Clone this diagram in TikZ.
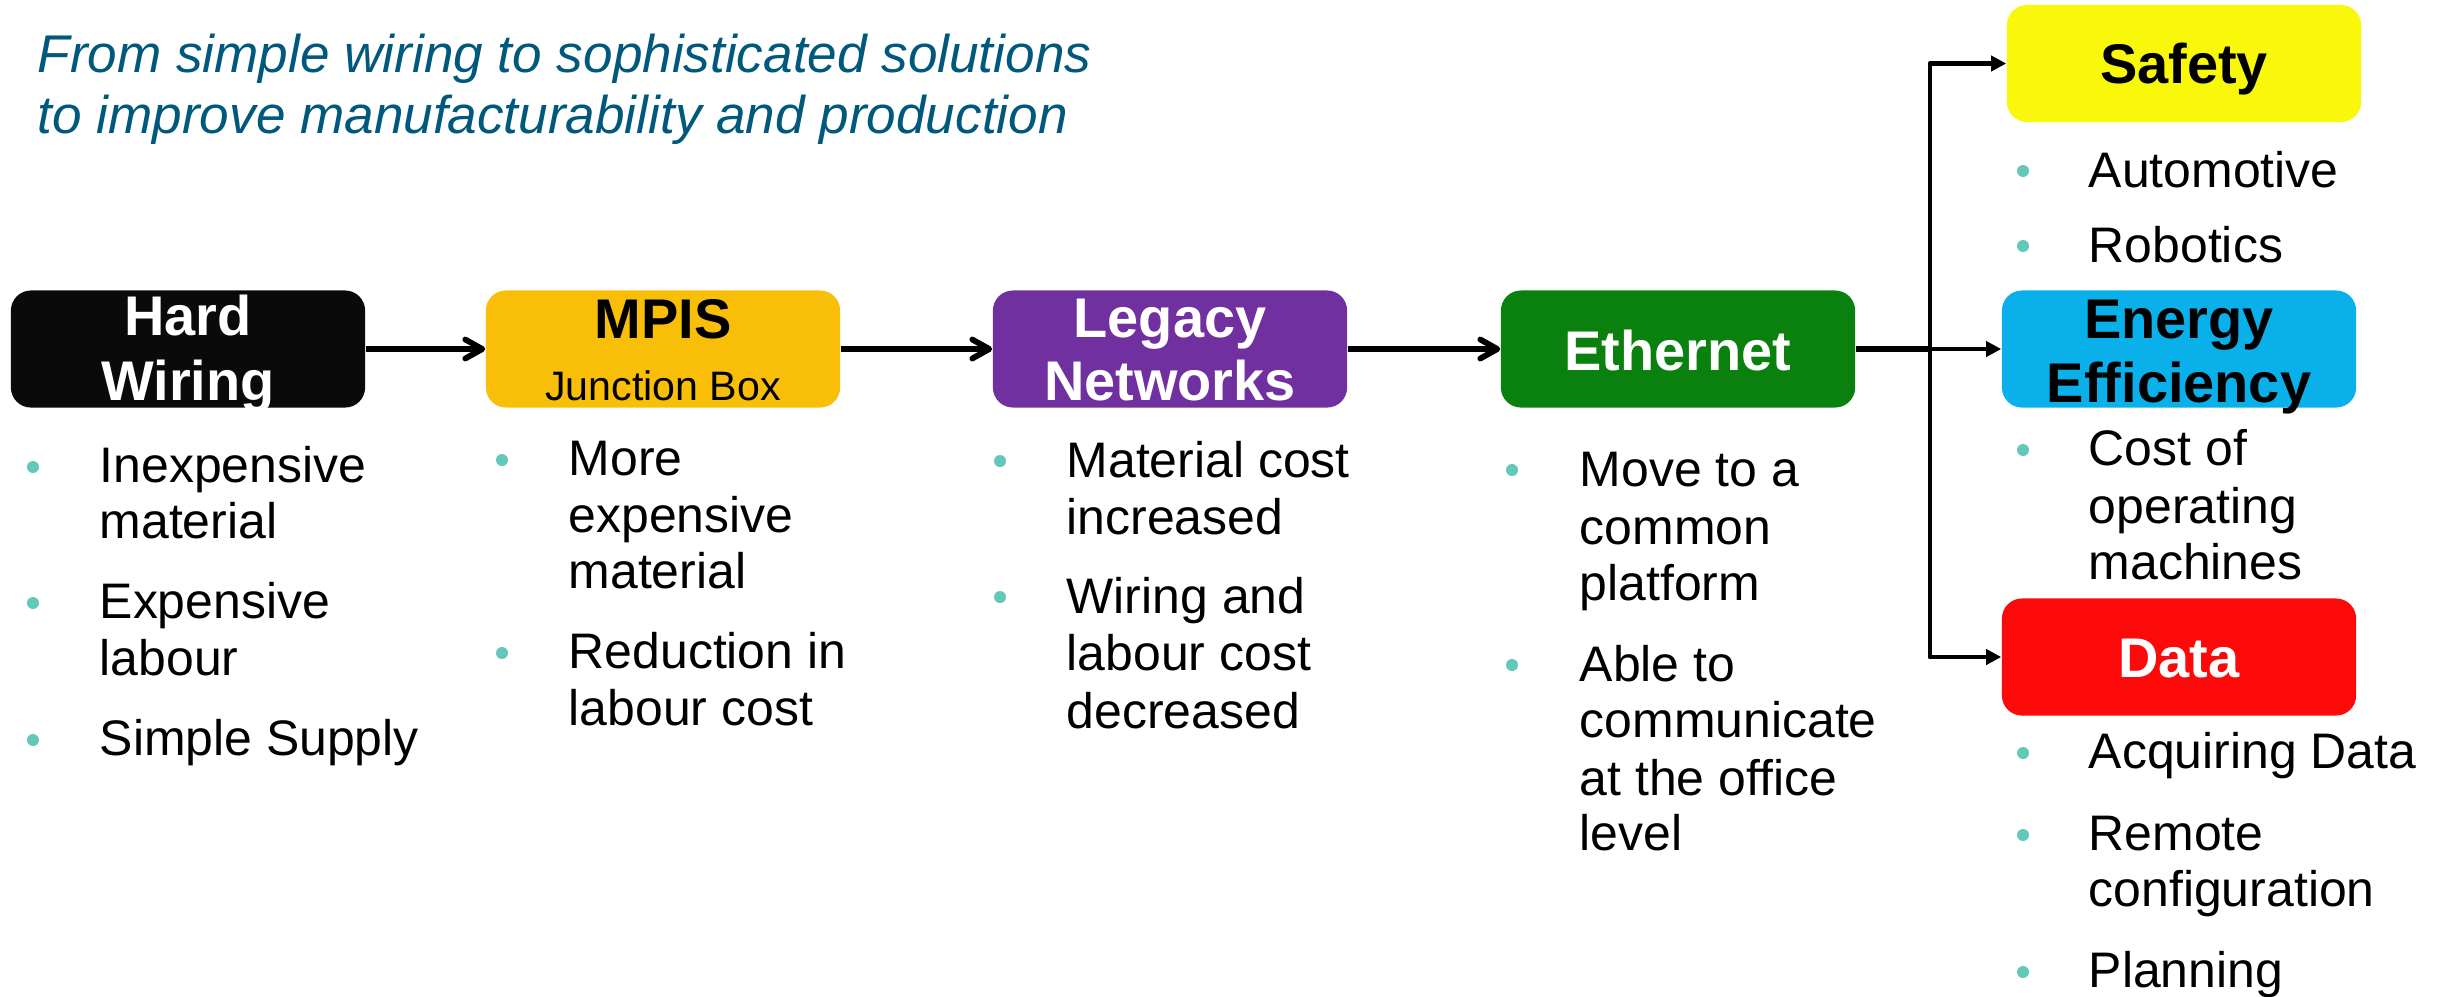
\documentclass[tikz,border=0pt]{standalone}
\usepackage{fontspec}
\setmainfont{Liberation Sans}
\usetikzlibrary{arrows.meta}
\definecolor{titleblue}{RGB}{0,88,124}
\definecolor{bulletC}{RGB}{98,200,184}
\definecolor{hwC}{RGB}{10,10,10}
\definecolor{mpisC}{RGB}{249,190,8}
\definecolor{legacyC}{RGB}{112,48,160}
\definecolor{ethC}{RGB}{10,128,14}
\definecolor{safeC}{RGB}{250,248,10}
\definecolor{energyC}{RGB}{10,176,234}
\definecolor{dataC}{RGB}{252,10,10}
\begin{document}
\begin{tikzpicture}[x=0.01cm,y=-0.01cm,
 box/.style={rectangle, rounded corners=0.2cm, minimum width=3.54cm, minimum height=1.17cm, inner sep=0, draw=none},
 hd/.style={font=\fontsize{15.9}{19}\selectfont\bfseries, anchor=base, inner sep=0},
 sub/.style={font=\fontsize{11.7}{14}\selectfont, anchor=base, inner sep=0},
 bt/.style={font=\fontsize{14.2}{17}\selectfont, anchor=base west, inner sep=0},
 ttl/.style={font=\fontsize{15.1}{18}\selectfont\itshape, text=titleblue, anchor=base west, inner sep=0},
 dot/.style={circle, fill=bulletC, minimum size=0.12cm, inner sep=0},
 conn/.style={line width=1.65pt, -{Straight Barb[length=0.17cm,width=0.19cm,round]}},
 branch/.style={line width=1.4pt, line join=round, -{Triangle[length=0.15cm,width=0.15cm]}},
 plain/.style={line width=1.55pt},
]
\useasboundingbox (0,0) rectangle (2443,996);

% title
\node[ttl] (t1) at (37,72) {From simple wiring to sophisticated solutions};
\node[ttl] (t2) at (37,133) {to improve manufacturability and production};

% boxes
\node[box, fill=hwC] (hw) at (188,349) {};
\node[box, fill=mpisC] (mpis) at (663,349) {};
\node[box, fill=legacyC] (leg) at (1170,349) {};
\node[box, fill=ethC] (eth) at (1678,349) {};
\node[box, fill=safeC] (safe) at (2184,63.5) {};
\node[box, fill=energyC] (energy) at (2179,349) {};
\node[box, fill=dataC] (data) at (2179,657) {};

% box labels
\node[hd, text=white] (hw1) at (188,335) {Hard};
\node[hd, text=white] (hw2) at (188,400) {Wiring};
\node[hd] (mp1) at (663,338) {MPIS};
\node[sub] (mp2) at (663,400) {Junction Box};
\node[hd, text=white] (lg1) at (1170,337) {Legacy};
\node[hd, text=white] (lg2) at (1170,400) {Networks};
\node[hd, text=white] (et1) at (1678,370) {Ethernet};
\node[hd] (sf1) at (2184,83) {Safety};
\node[hd] (en1) at (2179,338) {Energy};
\node[hd] (en2) at (2179,402) {Efficiency};
\node[hd, text=white] (da1) at (2179,677) {Data};

% connectors
\draw[conn] (hw.east) -- (mpis.west);
\draw[conn] (mpis.east) -- (leg.west);
\draw[conn] (leg.east) -- (eth.west);
\coordinate (j) at (1930,349);
\draw[plain] (eth.east) -- (j);
\draw[branch] (j) |- (safe.west);
\draw[branch] (j) -- (energy.west);
\draw[branch] (j) |- (data.west);

% bullets: Hard Wiring
\foreach \y/\t [count=\i] in {482/Inexpensive, 538/material, 618/Expensive, 675/labour, 755/Simple Supply}
  \node[bt] (hwl\i) at (99,\y) {\t};
\foreach \y [count=\i] in {482,618,755} \node[dot] (hwd\i) at (33,\y-15) {};

% MPIS
\foreach \y/\t [count=\i] in {475/More, 532/expensive, 588/material, 668/Reduction in, 725/labour cost}
  \node[bt] (mpl\i) at (568,\y) {\t};
\foreach \y [count=\i] in {475,668} \node[dot] (mpd\i) at (502,\y-15) {};

% Legacy
\foreach \y/\t [count=\i] in {477/Material cost, 534/increased, 613/Wiring and, 670/labour cost, 728/decreased}
  \node[bt] (lgl\i) at (1066,\y) {\t};
\foreach \y [count=\i] in {477,613} \node[dot] (lgd\i) at (1000,\y-16) {};

% Ethernet
\foreach \y/\t [count=\i] in {486/Move to a, 544/common, 600/platform, 681/Able to, 737/communicate, 795/at the office, 850/level}
  \node[bt] (etl\i) at (1579,\y) {\t};
\foreach \y [count=\i] in {486,681} \node[dot] (etd\i) at (1512,\y-16) {};

% Safety
\foreach \y/\t [count=\i] in {187/Automotive, 262/Robotics}
  \node[bt] (sfl\i) at (2088,\y) {\t};
\foreach \y [count=\i] in {187,262} \node[dot] (sfd\i) at (2023,\y-16) {};

% Energy
\foreach \y/\t [count=\i] in {465/Cost of, 523/operating, 579/machines}
  \node[bt] (enl\i) at (2088,\y) {\t};
\node[dot] (end1) at (2023,450) {};

% Data
\foreach \y/\t [count=\i] in {768/Acquiring Data, 850/Remote, 906/configuration, 987/Planning}
  \node[bt] (dal\i) at (2088,\y) {\t};
\foreach \y [count=\i] in {768,850,987} \node[dot] (dad\i) at (2023,\y-15) {};
\end{tikzpicture}
\end{document}
